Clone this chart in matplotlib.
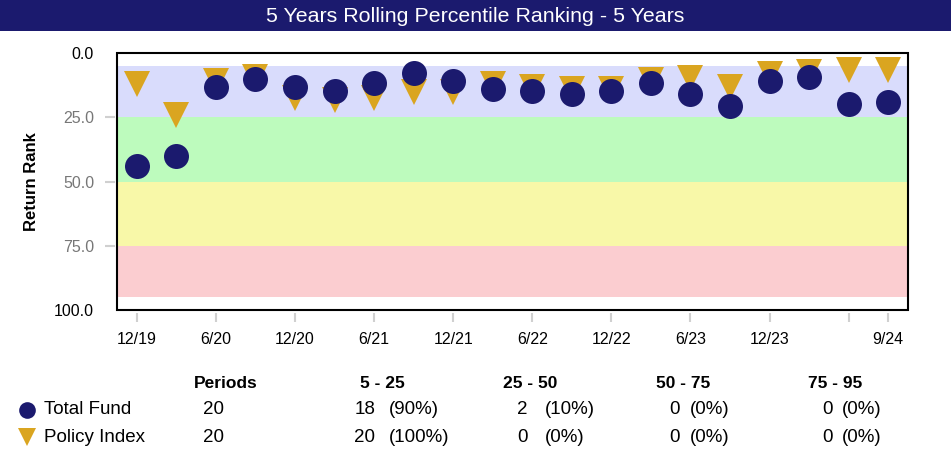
import numpy as np
import matplotlib
matplotlib.use("Agg")
from matplotlib import pyplot as plt
from matplotlib.patches import Rectangle
from matplotlib.lines import Line2D

plt.rcParams['font.family'] = ['Liberation Sans', 'DejaVu Sans']

# quarters 12/19 .. 9/24
quarters = ["12/19", "3/20", "6/20", "9/20", "12/20", "3/21", "6/21", "9/21",
            "12/21", "3/22", "6/22", "9/22", "12/22", "3/23", "6/23", "9/23",
            "12/23", "3/24", "6/24", "9/24"]
tick_pos = [0, 2, 4, 6, 8, 10, 12, 14, 16, 18, 19]
tick_labels = ["12/19", "6/20", "12/20", "6/21", "12/21", "6/22", "12/22",
               "6/23", "12/23", "", "9/24"]
total_fund = [44.0, 40.1, 13.1, 10.1, 13.1, 14.7, 11.5, 7.8, 10.8, 13.9,
              14.7, 16.1, 14.7, 11.5, 16.1, 20.7, 10.8, 9.2, 20.0, 19.2]
policy_index = [11.9, 24.3, 11.0, 9.3, 17.4, 18.2, 17.4, 15.2, 15.2, 11.9,
                13.4, 14.1, 14.1, 10.4, 9.6, 13.4, 8.0, 7.3, 6.6, 6.6]

bands = [(5, 25), (25, 50), (50, 75), (75, 95)]
band_colors = ["#d9dcfc", "#bdfbbd", "#f8f8a8", "#fbcdd0"]

# summary table
series_names = ["Total Fund", "Policy Index"]
periods = [20, 20]
band_names = ["5 - 25", "25 - 50", "50 - 75", "75 - 95"]
band_counts = [[18, 2, 0, 0],
               [20, 0, 0, 0]]

navy = "#1b1a6e"
gold = "#daa520"

W, H = 951, 457
fig = plt.figure(figsize=(W / 100, H / 100), dpi=100)

# title bar
fig.add_artist(Rectangle((0, 1 - 31 / H), 1, 31 / H, transform=fig.transFigure,
                         facecolor=navy, edgecolor="none"))
fig.text(475 / W, 1 - 16 / H, "5 Years Rolling Percentile Ranking - 5 Years",
         color="white", fontsize=15.4, ha="center", va="center")

ax = fig.add_axes([117 / W, 1 - 310 / H, (908 - 117) / W, (310 - 53) / H])
x = np.arange(len(quarters))

for (lo, hi), c in zip(bands, band_colors):
    ax.axhspan(lo, hi, color=c, lw=0, zorder=0)

ax.plot(x, policy_index, linestyle="none", marker="v", markersize=19,
        color=gold, markeredgewidth=0, zorder=3)
ax.plot(x, total_fund, linestyle="none", marker="o", markersize=18,
        color=navy, markeredgewidth=0, zorder=4)

ax.set_xlim(-0.5, len(quarters) - 0.5)
ax.set_ylim(100, 0)

# small gap between frame and ticks
for s in ax.spines.values():
    s.set_visible(False)
ax.spines["bottom"].set_position(("outward", 2.5))
ax.spines["left"].set_position(("outward", 1.5))
ax.add_patch(Rectangle((0, 0), 1, 1, transform=ax.transAxes, fill=False,
                       edgecolor="black", lw=1.5, clip_on=False, zorder=5))

ax.set_xticks(tick_pos)
ax.set_xticklabels(tick_labels)
ax.set_yticks([0, 25, 50, 75, 100])
ax.set_yticklabels(["0.0", "25.0", "50.0", "75.0", "100.0"])

ax.tick_params(axis="x", length=6.5, width=1.5, color="#d0d0d0", pad=7,
               labelsize=11.5)
ax.tick_params(axis="y", length=7, width=1.5, color="#d0d0d0", pad=8,
               labelsize=11.5)
yt = ax.yaxis.get_major_ticks()
yt[0].tick1line.set_visible(False)
yt[4].tick1line.set_visible(False)
for i, lab in enumerate(ax.get_yticklabels()):
    lab.set_color("black" if i in (0, 4) else "#777777")

fig.text(32 / W, 1 - 182 / H, "Return Rank", rotation=90, fontsize=12,
         fontweight="bold", ha="center", va="center")

# summary table below the chart
ty = [1 - 384 / H, 1 - 410 / H, 1 - 437 / H]
fs = 13.5
fig.text(226 / W, ty[0], "Periods", fontsize=12.5, fontweight="bold",
         ha="center", va="center")
head_x = [360, 503, 656, 808]
count_x = [375, 528, 680, 833]
pct_x = [389, 545, 690, 842]
for hx, name in zip(head_x, band_names):
    fig.text(hx / W, ty[0], name, fontsize=12.5, fontweight="bold",
             ha="left", va="center")

markers = [("o", navy, 12), ("v", gold, 13)]
for r, name in enumerate(series_names):
    yy = ty[r + 1]
    m, c, ms = markers[r]
    fig.add_artist(Line2D([27 / W], [yy], marker=m, color=c, markersize=ms,
                          markeredgewidth=0, linestyle="none",
                          transform=fig.transFigure))
    fig.text(44 / W, yy, name, fontsize=fs, ha="left", va="center")
    fig.text(203 / W, yy, str(periods[r]), fontsize=fs, ha="left", va="center")
    for k in range(len(band_names)):
        cnt = band_counts[r][k]
        pct = round(100 * cnt / periods[r])
        fig.text(count_x[k] / W, yy, str(cnt), fontsize=fs, ha="right",
                 va="center")
        fig.text(pct_x[k] / W, yy, "(%d%%)" % pct, fontsize=fs, ha="left",
                 va="center")

fig.savefig("out.png", dpi=100)
